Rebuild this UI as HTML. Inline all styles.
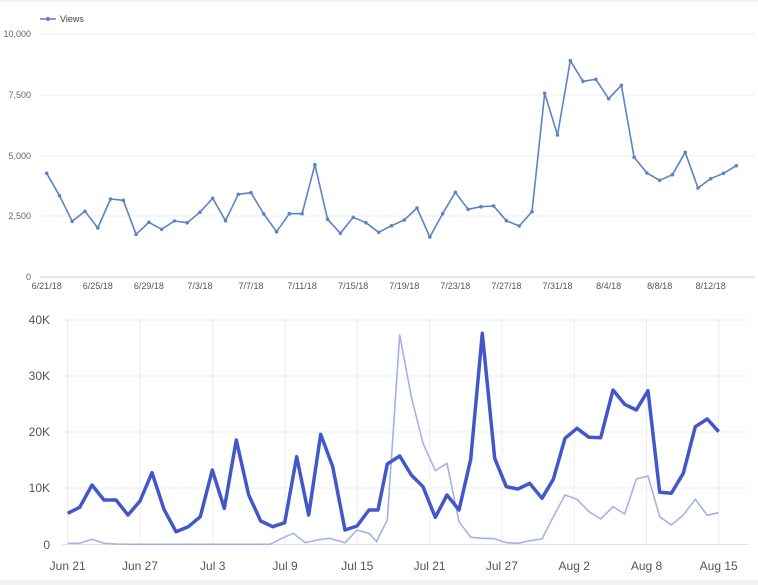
<!DOCTYPE html>
<html><head><meta charset="utf-8"><style>
html,body{margin:0;padding:0;background:#fff;}
svg{display:block;font-family:"Liberation Sans",sans-serif;}
</style></head><body>
<svg id="s" width="758" height="585" viewBox="0 0 758 585" xmlns="http://www.w3.org/2000/svg">
<rect width="758" height="585" fill="#fff"/>
<line x1="0" y1="1" x2="758" y2="1" stroke="#e4e4e4"/>
<rect x="0" y="580" width="758" height="5" fill="#f2f2f2"/>
<g stroke="#eeeeee" stroke-width="1">
<line x1="40" y1="34" x2="755" y2="34"/><line x1="40" y1="95" x2="755" y2="95"/>
<line x1="40" y1="156" x2="755" y2="156"/><line x1="40" y1="216" x2="755" y2="216"/>
</g>
<line x1="40" y1="277" x2="755" y2="277" stroke="#ccc"/>
<g font-size="9" fill="#666" text-anchor="end">
<text x="31" y="37">10,000</text><text x="31" y="98">7,500</text><text x="31" y="159">5,000</text><text x="31" y="219">2,500</text><text x="31" y="280">0</text>
</g>
<line x1="40" y1="19" x2="56" y2="19" stroke="#5b84c4" stroke-width="1.5"/><circle cx="48" cy="19" r="2" fill="#5b84c4"/>
<text x="60" y="22" font-size="9" fill="#444">Views</text>
<g id="tx" font-size="9" fill="#555" text-anchor="middle"></g>
<g id="top"></g>
<g id="bg" stroke="#ececec"></g>
<g font-size="12" fill="#555" text-anchor="end">
<text x="50" y="324">40K</text><text x="50" y="380">30K</text><text x="50" y="436">20K</text><text x="50" y="492">10K</text><text x="50" y="549">0</text>
</g>
<g id="bx" font-size="12" fill="#555" text-anchor="middle"></g>
<g id="bot"></g>
</svg>
<script>
var NS="http://www.w3.org/2000/svg";
function el(p,t,a,txt){var e=document.createElementNS(NS,t);for(var k in a)e.setAttribute(k,a[k]);if(txt)e.textContent=txt;document.getElementById(p).appendChild(e);return e;}
var ty=[520,587,664,634,684,597,601,703,667,688,663,668,637,595,662,583,578,642,695,641,641,494,658,700,652,668,697,677,660,624,711,641,577,628,620,618,662,678,635,280,405,182,244,238,296,256,472,519,541,524,457,564,536,520,497];
var pts=[];
for(var i=0;i<ty.length;i++){pts.push((46.7+12.77*i).toFixed(1)+","+(ty[i]/3).toFixed(1));}
el("top","polyline",{points:pts.join(" "),fill:"none",stroke:"#5b84c4","stroke-width":"1.6","stroke-linejoin":"round"});
for(var i=0;i<ty.length;i++){el("top","circle",{cx:(46.7+12.77*i).toFixed(1),cy:(ty[i]/3).toFixed(1),r:"1.8",fill:"#5b84c4"});}
var tl=["6/21/18","6/25/18","6/29/18","7/3/18","7/7/18","7/11/18","7/15/18","7/19/18","7/23/18","7/27/18","7/31/18","8/4/18","8/8/18","8/12/18"];
for(var i=0;i<tl.length;i++)el("tx","text",{x:(46.7+12.77*4*i).toFixed(1),y:"289"},tl[i]);
// bottom grid
var ys=[320,376,432,488];for(var i=0;i<4;i++)el("bg","line",{x1:"62",y1:ys[i],x2:"748",y2:ys[i]});
var gx=[67.7,140,212.7,285,357.3,429.6,501.9,574.2,646.5,718.7];
var gl=["Jun 21","Jun 27","Jul 3","Jul 9","Jul 15","Jul 21","Jul 27","Aug 2","Aug 8","Aug 15"];
for(var i=0;i<gx.length;i++){el("bg","line",{x1:gx[i],y1:"318",x2:gx[i],y2:"544"});el("bx","text",{x:gx[i],y:"570"},gl[i]);}
el("bg","line",{x1:"62",y1:"544.5",x2:"748",y2:"544.5",stroke:"#e0e0e0"});
// light series
var l3=[[203,730],[239,730],[276,718],[312,730],[348,732],[384,733],[810,733],[845,715],[880,700],[916,728],[952,720],[988,715],[1035,728],[1071,690],[1107,700],[1130,725]];
var l4=[[0,715],[28,660],[65,105],[100,290],[135,430],[172,512],[207,490],[243,665],[278,712],[313,715],[350,716],[385,728],[420,730],[455,722],[492,717],[526,650],[561,585],[597,598],[633,635],[668,657],[705,620],[740,642],[775,537],[810,528],[845,650],[880,675],[916,645],[952,598],[988,646],[1022,638]];
var p=[];l3.forEach(function(a){p.push((a[0]/3).toFixed(1)+","+(300+a[1]/3).toFixed(1));});
l4.forEach(function(a){p.push((378+a[0]/3).toFixed(1)+","+(300+a[1]/3).toFixed(1));});
el("bot","polyline",{points:p.join(" "),fill:"none",stroke:"#a3b3e3","stroke-width":"1.6","stroke-linejoin":"round"});
var d3=[[203,640],[239,622],[276,555],[312,600],[348,600],[384,645],[420,603],[456,518],[492,628],[528,695],[565,680],[601,650],[637,510],[673,625],[709,420],[746,585],[782,663],[818,680],[854,668],[890,470],[926,645],[962,403],[998,500],[1035,690],[1071,678],[1107,630],[1134,630]];
var d4=[[28,492],[65,468],[100,525],[135,560],[172,652],[207,585],[243,630],[278,478],[313,100],[350,475],[385,560],[420,567],[455,550],[492,595],[526,538],[561,415],[597,385],[633,412],[668,413],[705,270],[740,313],[775,330],[810,272],[845,577],[880,580],[916,520],[952,380],[988,357],[1022,395]];
p=[];d3.forEach(function(a){p.push((a[0]/3).toFixed(1)+","+(300+a[1]/3).toFixed(1));});
d4.forEach(function(a){p.push((378+a[0]/3).toFixed(1)+","+(300+a[1]/3).toFixed(1));});
el("bot","polyline",{points:p.join(" "),fill:"none",stroke:"#4358c8","stroke-width":"3.5","stroke-linejoin":"round"});
</script>
</body></html>
